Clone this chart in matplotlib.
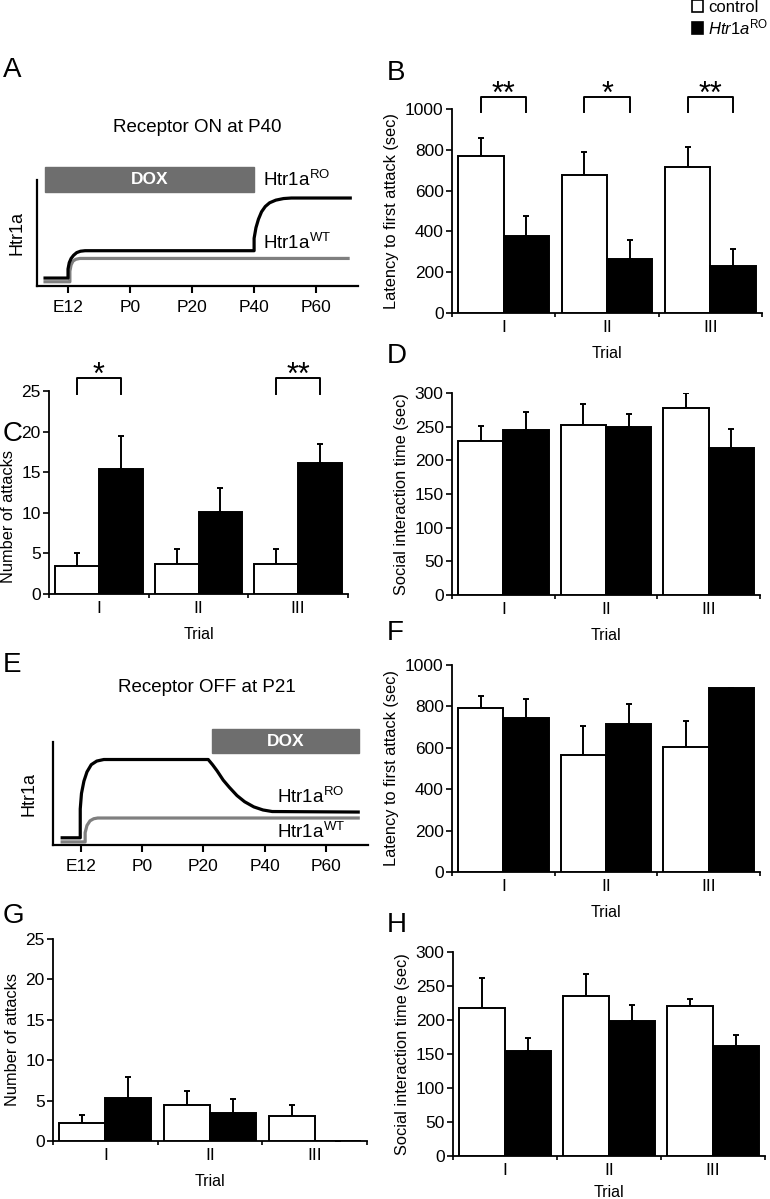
import numpy as np
import matplotlib.pyplot as plt
from matplotlib.patches import Patch, Rectangle

plt.rcParams['font.family'] = ['Liberation Sans', 'DejaVu Sans']
plt.rcParams['mathtext.fontset'] = 'custom'
plt.rcParams['mathtext.rm'] = 'Liberation Sans'
plt.rcParams['mathtext.it'] = 'Liberation Sans:italic'

W, H = 770, 1199

# ---- data ----
trials = ['I', 'II', 'III']

# B: latency to first attack, receptor ON at P40
lat_on_ctrl = [772, 677, 718]
lat_on_ctrl_err = [85, 112, 95]
lat_on_ro = [377, 267, 230]
lat_on_ro_err = [100, 90, 86]
sig_B = [(0, '**'), (1, '*'), (2, '**')]

# C: number of attacks, receptor ON
att_on_ctrl = [3.4, 3.7, 3.7]
att_on_ctrl_err = [1.7, 1.9, 1.8]
att_on_ro = [15.4, 10.1, 16.1]
att_on_ro_err = [4.1, 2.9, 2.4]
sig_C = [(0, '*'), (2, '**')]

# D: social interaction, receptor ON
soc_on_ctrl = [228, 253, 277]
soc_on_ctrl_err = [23, 31, 23]
soc_on_ro = [245, 249, 219]
soc_on_ro_err = [27, 20, 27]

# F: latency, receptor OFF at P21
lat_off_ctrl = [794, 563, 603]
lat_off_ctrl_err = [55, 141, 125]
lat_off_ro = [743, 717, 887]
lat_off_ro_err = [93, 93, 4]

# G: number of attacks, receptor OFF
att_off_ctrl = [2.2, 4.4, 3.1]
att_off_ctrl_err = [1.0, 1.8, 1.4]
att_off_ro = [5.3, 3.5, 0.05]
att_off_ro_err = [2.6, 1.7, 0]

# H: social interaction, receptor OFF
soc_off_ctrl = [217, 235, 221]
soc_off_ctrl_err = [45, 33, 10]
soc_off_ro = [154, 198, 162]
soc_off_ro_err = [19, 24, 16]

# schematic time axis (days, P0 = 0)
age_ticks = [-20, 0, 20, 40, 60]
age_labels = ['E12', 'P0', 'P20', 'P40', 'P60']

# A: schematic expression curves
on_ro_x = [-27.4, -20, -20, -19.6, -19.0, -18.2, -17.2, -16.0, -14.5, 40, 40,
           40.6, 41.4, 42.4, 43.6, 45, 47, 49.5, 52, 71]
on_ro_y = [0.075, 0.075, 0.16, 0.22, 0.26, 0.29, 0.315, 0.328, 0.333, 0.333,
           0.45, 0.55, 0.63, 0.70, 0.75, 0.785, 0.81, 0.825, 0.83, 0.83]
on_wt_x = [-27.4, -19.4, -19.4, -19.0, -18.4, -17.5, -16.2, 70.3]
on_wt_y = [0.04, 0.04, 0.14, 0.20, 0.235, 0.252, 0.26, 0.26]
on_dox = (-27.4, 40)

# E: schematic expression curves
off_ro_x = [-26.1, -20.2, -20.2, -19.8, -19.0, -18.0, -16.6, -14.8, -12.5, 21.6,
            23, 24.5, 26.5, 28.5, 31, 33.5, 36.5, 39.5, 42.5, 70.6]
off_ro_y = [0.07, 0.07, 0.35, 0.50, 0.62, 0.71, 0.78, 0.815, 0.83, 0.83,
            0.78, 0.72, 0.63, 0.56, 0.48, 0.42, 0.37, 0.34, 0.325, 0.32]
off_wt_x = [-26.1, -18.6, -18.6, -18.0, -17.0, -15.8, -14.5, 70.6]
off_wt_y = [0.03, 0.03, 0.12, 0.19, 0.235, 0.255, 0.262, 0.262]
off_dox = (22.9, 70.9)


def rect(x0, y0, x1, y1):
    # pixel box (top-left origin) -> figure fraction
    return [x0 / W, 1 - y1 / H, (x1 - x0) / W, (y1 - y0) / H]


def px(x, y):
    return x / W, 1 - y / H


fig = plt.figure(figsize=(W / 100, H / 100), dpi=100)

BW = 0.44


def bar_panel(box, ctrl, ctrl_err, ro, ro_err, ymax, ystep, ylabel, sig=None,
              bracket=None, ylab_y=0.5, xlabpad=8):
    ax = fig.add_axes(rect(*box))
    x = np.arange(len(trials))
    ax.bar(x - BW / 2, ctrl, BW, color='white', edgecolor='black', linewidth=1.4, zorder=3)
    ax.bar(x + BW / 2, ro, BW, color='black', edgecolor='black', linewidth=1.4, zorder=3)
    z = np.zeros(len(x))
    ax.errorbar(x - BW / 2, ctrl, yerr=[z, ctrl_err], fmt='none', ecolor='black',
                elinewidth=1.4, capsize=2.5, capthick=1.4, zorder=2)
    ax.errorbar(x + BW / 2, ro, yerr=[z, ro_err], fmt='none', ecolor='black',
                elinewidth=1.4, capsize=2.5, capthick=1.4, zorder=2)
    ax.set_xlim(-0.5, 2.5)
    ax.set_ylim(0, ymax)
    ax.set_yticks(np.arange(0, ymax + ystep / 2, ystep))
    ax.set_xticks(x)
    ax.set_xticklabels(trials)
    ax.set_xticks([-0.5, 0.5, 1.5, 2.5], minor=True)
    ax.tick_params(axis='x', which='major', length=0, pad=5, labelsize=12.5)
    ax.tick_params(axis='x', which='minor', length=3, width=1.2)
    ax.tick_params(axis='y', length=4, width=1.2, labelsize=12.5, pad=2)
    for s in ['top', 'right']:
        ax.spines[s].set_visible(False)
    for s in ['left', 'bottom']:
        ax.spines[s].set_linewidth(1.3)
    ax.set_xlabel('Trial', fontsize=11.5, labelpad=xlabpad)
    ax.set_ylabel(ylabel, fontsize=11.8, labelpad=4)
    ax.yaxis.label.set_y(ylab_y)
    if sig:
        yb, yt = bracket
        for i, s in sig:
            ax.plot([i - BW / 2, i - BW / 2, i + BW / 2, i + BW / 2], [yb, yt, yt, yb],
                    color='black', lw=1.4, clip_on=False)
            ax.annotate(s, xy=(i, yt), xytext=(0, -4.5), textcoords='offset points',
                        ha='center', va='baseline', fontsize=22, annotation_clip=False)
    return ax


def schematic(box, xlim, ro_x, ro_y, wt_x, wt_y, dox, ro_lab, wt_lab, ylabpad):
    ax = fig.add_axes(rect(*box))
    ax.plot(wt_x, wt_y, color='#7f7f7f', lw=2.3, solid_joinstyle='round', clip_on=False)
    ax.plot(ro_x, ro_y, color='black', lw=2.3, solid_joinstyle='round', clip_on=False)
    ax.add_patch(Rectangle((dox[0], 0.89), dox[1] - dox[0], 0.235, color='#6e6e6e',
                           clip_on=False, zorder=3))
    ax.text((dox[0] + dox[1]) / 2, 1.0075, 'DOX', color='white', fontsize=12.5,
            fontweight='bold', ha='center', va='center', zorder=4)
    ax.text(ro_lab[0], ro_lab[1], 'Htr1a$^{\\mathrm{RO}}$', fontsize=13.5,
            ha='left', va='center', clip_on=False)
    ax.text(wt_lab[0], wt_lab[1], 'Htr1a$^{\\mathrm{WT}}$', fontsize=13.5,
            ha='left', va='center', clip_on=False)
    ax.set_xlim(*xlim)
    ax.set_ylim(0, 1)
    ax.set_xticks(age_ticks)
    ax.set_xticklabels(age_labels)
    ax.set_yticks([])
    ax.tick_params(axis='x', length=5, width=1.5, labelsize=12.5, pad=5)
    for s in ['top', 'right']:
        ax.spines[s].set_visible(False)
    for s in ['left', 'bottom']:
        ax.spines[s].set_linewidth(1.6)
    ax.set_ylabel('Htr1a', fontsize=13, labelpad=ylabpad)
    return ax


# A
schematic((37, 180, 358, 286), (-30, 73.5), on_ro_x, on_ro_y, on_wt_x, on_wt_y,
          on_dox, (42.9, 1.0), (42.9, 0.41), 8)
fig.text(*px(197, 128), 'Receptor ON at P40', fontsize=13.5, ha='center', va='center')

# E
schematic((53, 742, 368, 845), (-29.1, 73.8), off_ro_x, off_ro_y, off_wt_x, off_wt_y,
          off_dox, (44.1, 0.47), (44.1, 0.13), 11)
fig.text(*px(207, 688), 'Receptor OFF at P21', fontsize=13.5, ha='center', va='center')

# bar panels
bar_panel((452, 109, 762, 313), lat_on_ctrl, lat_on_ctrl_err, lat_on_ro, lat_on_ro_err,
          1000, 200, 'Latency to first attack (sec)', sig_B, (985, 1059))
bar_panel((49, 391, 348, 594), att_on_ctrl, att_on_ctrl_err, att_on_ro, att_on_ro_err,
          25, 5, 'Number of attacks', sig_C, (24.6, 26.6), ylab_y=0.38)
bar_panel((452, 393, 760, 595), soc_on_ctrl, soc_on_ctrl_err, soc_on_ro, soc_on_ro_err,
          300, 50, 'Social interaction time (sec)')
bar_panel((452, 665, 760, 872), lat_off_ctrl, lat_off_ctrl_err, lat_off_ro, lat_off_ro_err,
          1000, 200, 'Latency to first attack (sec)')
bar_panel((53, 939, 367, 1141), att_off_ctrl, att_off_ctrl_err, att_off_ro, att_off_ro_err,
          25, 5, 'Number of attacks')
bar_panel((453, 952, 765, 1156), soc_off_ctrl, soc_off_ctrl_err, soc_off_ro, soc_off_ro_err,
          300, 50, 'Social interaction time (sec)', xlabpad=5)

# panel letters
letters = ['A', 'B', 'C', 'D', 'E', 'F', 'G', 'H']
letter_pos = [(3, 70), (387, 73), (3, 434), (387, 356), (3, 665), (387, 633), (3, 916), (387, 925)]
for l, (lx, ly) in zip(letters, letter_pos):
    fig.text(*px(lx, ly), l, fontsize=20, ha='left', va='center')

# legend
handles = [Patch(facecolor='white', edgecolor='black', linewidth=1.2),
           Patch(facecolor='black', edgecolor='black', linewidth=1.2)]
fig.legend(handles, ['control', '$\\mathit{Htr1a}^{\\mathrm{RO}}$'], loc='upper left',
           bbox_to_anchor=px(692, 0), frameon=False, fontsize=12, borderpad=0,
           borderaxespad=0, handlelength=0.68, handleheight=0.68, handletextpad=0.3,
           labelspacing=0.12)

fig.savefig('out.png', dpi=100)
